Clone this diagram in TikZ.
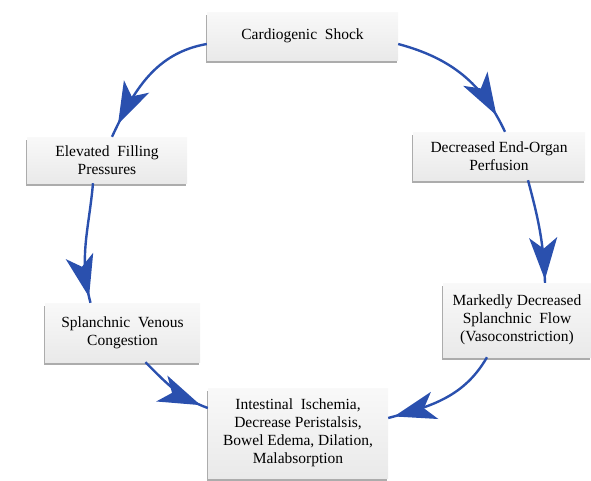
\documentclass[tikz,border=0pt]{standalone}
\usepackage{fontspec}
\setmainfont{Liberation Serif}
\usetikzlibrary{arrows.meta,decorations.markings,shadows}
\definecolor{flowblue}{HTML}{2A50AE}
\tikzset{
  stage/.style={draw=none, top color=gray!5, bottom color=gray!17, align=center,
    font=\fontsize{15.5}{18}\selectfont, inner sep=3pt,
    drop shadow={shadow xshift=-1pt, shadow yshift=-3pt, fill=gray!65, opacity=1}},
  flow/.style={draw=flowblue, line width=2.4pt, postaction=decorate,
    decoration={markings, mark=at position #1 with {\arrow{Stealth[length=42pt,width=28pt,inset=11pt]}}}},
  flow/.default=0.88,
}
\begin{document}
\begin{tikzpicture}[x=1pt,y=-1pt]
  \useasboundingbox (0,0) rectangle (591,480);

  \node[stage, minimum width=191pt, minimum height=48pt] (shock) at (302.5,36) {Cardiogenic\ \ Shock};
  \node[stage, minimum width=160pt, minimum height=46pt] (filling) at (107,160) {Elevated\ \ Filling\\Pressures};
  \node[stage, minimum width=172pt, minimum height=48pt] (perfusion) at (499,156) {Decreased End-Organ\\Perfusion};
  \node[stage, minimum width=155pt, minimum height=59pt] (venous) at (122.5,332.5) {Splanchnic\ \ Venous\\Congestion};
  \node[stage, minimum width=148pt, minimum height=74pt] (splanchnic) at (517,320) {Markedly Decreased\\Splanchnic\ \ Flow\\(Vasoconstriction)};
  \node[stage, minimum width=180pt, minimum height=90pt] (ischemia) at (298,433) {Intestinal\ \ Ischemia,\\Decrease Peristalsis,\\Bowel Edema, Dilation,\\Malabsorption};

  % around the cycle
  \draw[flow=0.9] ([yshift=-8pt]shock.west) to[out=190,in=65] ([xshift=5pt]filling.north);
  \draw[flow=0.87] ([yshift=-8pt]shock.east) to[out=-15,in=115] ([xshift=6pt]perfusion.north);
  \draw[flow=0.95] ([xshift=-14pt]filling.south) to[out=265,in=105] ([xshift=-32pt]venous.north);
  \draw[flow=0.97] ([xshift=29pt]perfusion.south) to[out=-75,in=92] ([xshift=28pt]splanchnic.north);
  \draw[flow=0.9] ([xshift=23pt]venous.south) to[out=-45,in=160] ([yshift=25pt]ischemia.west);
  \draw[flow=0.95] ([xshift=-30pt]splanchnic.south) to[out=-120,in=15] ([yshift=15pt]ischemia.east);
\end{tikzpicture}
\end{document}
